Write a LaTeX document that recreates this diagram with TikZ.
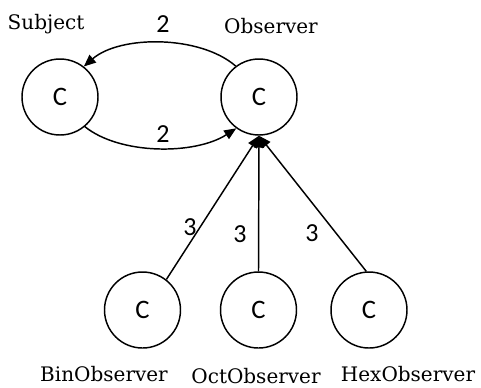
\documentclass[tikz,border=0pt]{standalone}
\usepackage{fontspec}
\setmainfont{DejaVu Serif}
\newfontfamily\calib{Carlito}
\usetikzlibrary{arrows.meta}
\begin{document}
\begin{tikzpicture}[x=0.75pt,y=-0.75pt,
  cls/.style={circle,draw,line width=1.1pt,minimum size=57pt,inner sep=0pt,font=\calib\fontsize{20}{24}\selectfont},
  lbl/.style={font=\fontsize{15}{18}\selectfont,anchor=base,inner sep=0pt},
  num/.style={font=\calib\fontsize{19.5}{22}\selectfont,inner sep=0pt},
  conn/.style={line width=1.1pt,-{Triangle[length=9pt,width=7.5pt]}}]
\useasboundingbox (0,0) rectangle (481,387);
\fill[white] (0,0) rectangle (481,387);
% classes
\node[cls] (subj) at (60,97) {C};
\node[cls] (obs) at (259,97) {C};
\node[cls] (bin) at (142.5,310) {C};
\node[cls] (oct) at (258.5,310) {C};
\node[cls] (hex) at (369,310) {C};
% names
\node[lbl] (tsubj) at (46,29) {Subject};
\node[lbl] (tobs) at (271,33) {Observer};
\node[lbl] (tbin) at (104,381) {BinObserver};
\node[lbl] (toct) at (256,383) {OctObserver};
\node[lbl] (thex) at (408,381) {HexObserver};
% connectors
\draw[conn] (obs.127) .. controls (200,35) and (120,35) .. (subj.52);
\draw[conn] (subj.-50) .. controls (120,155) and (195,155) .. (obs.234);
\draw[conn] (bin.52) -- (obs.south);
\draw[conn] (oct.north) -- (obs.south);
\draw[conn] (hex.94) -- (obs.south);
% multiplicities
\node[num] (m1) at (163,24) {2};
\node[num] (m2) at (163,134) {2};
\node[num] (m3) at (190,227) {3};
\node[num] (m4) at (240,234) {3};
\node[num] (m5) at (312,233) {3};
\end{tikzpicture}
\end{document}
